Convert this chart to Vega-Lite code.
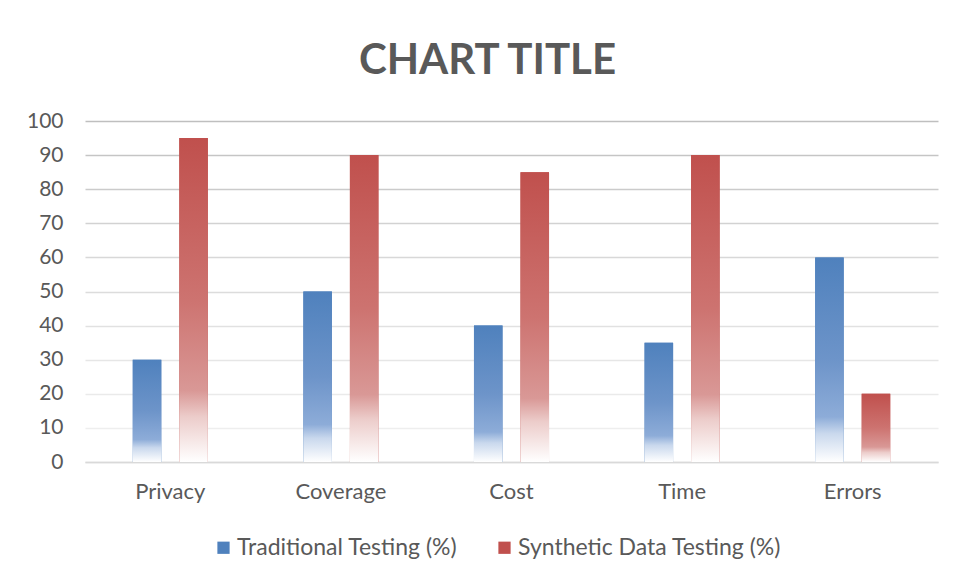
{
  "$schema": "https://vega.github.io/schema/vega-lite/v6.json",
  "width": 853,
  "height": 341,
  "autosize": {"type": "none"},
  "padding": {"left": 85, "top": 121, "right": 20, "bottom": 116},
  "background": "white",
  "config": {"view": {"stroke": null}},
  "title": {
    "text": "CHART TITLE",
    "font": "Lato",
    "fontSize": 42,
    "fontWeight": "bold",
    "color": "#595959",
    "anchor": "middle",
    "dx": -24,
    "offset": 27
  },
  "data": {
    "values": [
      {"category": "Privacy", "series": "Traditional Testing (%)", "value": 30},
      {"category": "Privacy", "series": "Synthetic Data Testing (%)", "value": 95},
      {"category": "Coverage", "series": "Traditional Testing (%)", "value": 50},
      {"category": "Coverage", "series": "Synthetic Data Testing (%)", "value": 90},
      {"category": "Cost", "series": "Traditional Testing (%)", "value": 40},
      {"category": "Cost", "series": "Synthetic Data Testing (%)", "value": 85},
      {"category": "Time", "series": "Traditional Testing (%)", "value": 35},
      {"category": "Time", "series": "Synthetic Data Testing (%)", "value": 90},
      {"category": "Errors", "series": "Traditional Testing (%)", "value": 60},
      {"category": "Errors", "series": "Synthetic Data Testing (%)", "value": 20}
    ]
  },
  "encoding": {
    "x": {
      "field": "category",
      "type": "nominal",
      "sort": ["Privacy", "Coverage", "Cost", "Time", "Errors"],
      "scale": {"paddingInner": 0.56, "paddingOuter": 0.28},
      "axis": {
        "title": null,
        "labelAngle": 0,
        "labelFont": "Lato",
        "labelFontSize": 22,
        "labelColor": "#595959",
        "labelPadding": 19,
        "ticks": false,
        "domainColor": "#d9d9d9",
        "domainWidth": 1.5,
        "grid": false
      }
    },
    "xOffset": {
      "field": "series",
      "type": "nominal",
      "sort": ["Traditional Testing (%)", "Synthetic Data Testing (%)"],
      "scale": {"paddingInner": 0.387, "paddingOuter": 0}
    },
    "y": {
      "field": "value",
      "type": "quantitative",
      "scale": {"domain": [0, 100], "nice": false},
      "axis": {
        "title": null,
        "values": [0, 10, 20, 30, 40, 50, 60, 70, 80, 90, 100],
        "labelFont": "Lato",
        "labelFontSize": 21,
        "labelColor": "#595959",
        "labelPadding": 22,
        "ticks": false,
        "domain": false,
        "gridWidth": 1.5,
        "gridColor": {
          "condition": [
            {"test": "datum.value >= 100", "value": "#bfbfbf"},
            {"test": "datum.value >= 90", "value": "#c5c5c5"},
            {"test": "datum.value >= 80", "value": "#cbcbcb"},
            {"test": "datum.value >= 70", "value": "#d2d2d2"},
            {"test": "datum.value >= 60", "value": "#d8d8d8"},
            {"test": "datum.value >= 50", "value": "#dcdcdc"},
            {"test": "datum.value >= 40", "value": "#e1e1e1"},
            {"test": "datum.value >= 30", "value": "#e6e6e6"},
            {"test": "datum.value >= 20", "value": "#eaeaea"},
            {"test": "datum.value >= 10", "value": "#eeeeee"}
          ],
          "value": "#d9d9d9"
        }
      }
    }
  },
  "layer": [
    {
      "mark": {"type": "bar"},
      "encoding": {
        "color": {
          "field": "series",
          "type": "nominal",
          "sort": ["Traditional Testing (%)", "Synthetic Data Testing (%)"],
          "scale": {"range": ["#4f81bd", "#c0504d"]},
          "legend": {
            "title": null,
            "orient": "none",
            "legendX": 127,
            "legendY": 415,
            "direction": "horizontal",
            "symbolType": "square",
            "symbolSize": 150,
            "labelFont": "Lato",
            "labelFontSize": 23,
            "labelColor": "#595959",
            "labelLimit": 0,
            "labelOffset": 2,
            "columnPadding": 35
          }
        }
      }
    },
    {
      "mark": {"type": "bar"},
      "encoding": {
        "fill": {
          "condition": {
            "test": "datum.series === 'Traditional Testing (%)'",
            "value": {
              "gradient": "linear",
              "x1": 0, "y1": 0, "x2": 0, "y2": 1,
              "stops": [
                {"offset": 0, "color": "#4f81bd"},
                {"offset": 0.5, "color": "#6d94c9"},
                {"offset": 0.78, "color": "#8dacd8"},
                {"offset": 0.86, "color": "#c9d8ed"},
                {"offset": 1, "color": "#ffffff"}
              ]
            }
          },
          "value": {
            "gradient": "linear",
            "x1": 0, "y1": 0, "x2": 0, "y2": 1,
            "stops": [
              {"offset": 0, "color": "#c0504d"},
              {"offset": 0.5, "color": "#cd7370"},
              {"offset": 0.78, "color": "#d99896"},
              {"offset": 0.86, "color": "#ecccca"},
              {"offset": 1, "color": "#ffffff"}
            ]
          }
        }
      }
    }
  ]
}
